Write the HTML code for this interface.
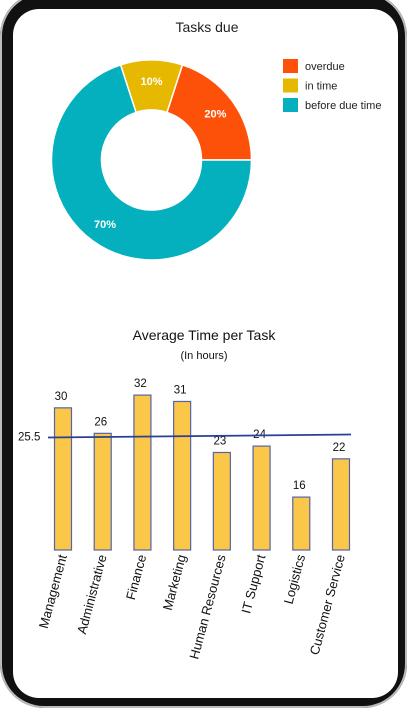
<!DOCTYPE html>
<html><head><meta charset="utf-8"><style>
html,body{margin:0;padding:0;background:#fff;}
body{width:409px;height:710px;overflow:hidden;position:relative;font-family:"Liberation Sans",sans-serif;}
#frame{position:absolute;left:0;top:-8px;width:407px;height:716px;border-radius:44px;background:#111;box-shadow:0 0 0 2px #bbb inset;}
#screen{position:absolute;left:13px;top:9px;width:385px;height:689px;border-radius:26px;background:#fff;overflow:hidden;}
svg{position:absolute;left:0;top:0;}
</style></head><body>
<div id="frame"></div>
<div id="screen"></div>
<svg id="chart" width="409" height="710">
<text x="207" y="32" text-anchor="middle" font-size="14" fill="#222">Tasks due</text>
<g id="donut"></g>
<g id="legend"></g>
<text x="204" y="340" text-anchor="middle" font-size="14" fill="#111">Average Time per Task</text>
<text x="204" y="359" text-anchor="middle" font-size="11" fill="#111">(In hours)</text>
<g id="bars"></g>
</svg>
<script>
const sliceLabels=["overdue","in time","before due time"];
const sliceValues=[20,10,70];
const sliceColors=["#fd5109","#e6b800","#04b0bd"];
const categories=["Management","Administrative","Finance","Marketing","Human Resources","IT Support","Logistics","Customer Service"];
const values=[30,26,32,31,23,24,16,22];
const averageValue=[25.5];
const NS="http://www.w3.org/2000/svg";
function mk(t,a,p){const e=document.createElementNS(NS,t);for(const k in a)e.setAttribute(k,a[k]);p.appendChild(e);return e;}
const cx=151.5,cy=160,R=100,r=50;
const dg=document.getElementById('donut');
const total=sliceValues.reduce((a,b)=>a+b,0);
let a0=0;
sliceValues.forEach((v,i)=>{
  const a1=a0+v/total*2*Math.PI;
  const pt=(rad,a)=>[cx+rad*Math.cos(a),cy-rad*Math.sin(a)];
  const [x0,y0]=pt(R,a0),[x1,y1]=pt(R,a1),[x2,y2]=pt(r,a1),[x3,y3]=pt(r,a0);
  const lg=(a1-a0)>Math.PI?1:0;
  const p=mk('path',{d:`M${x0},${y0}A${R},${R} 0 ${lg} 0 ${x1},${y1}L${x2},${y2}A${r},${r} 0 ${lg} 1 ${x3},${y3}Z`,fill:sliceColors[i],stroke:'#fff','stroke-width':1.5},dg);
  
  
  const am=(a0+a1)/2,[lx,ly]=pt(79,am);
  const t=mk('text',{x:lx,y:ly+4,'text-anchor':'middle','font-size':11,'font-weight':'bold',fill:'#fff'},dg);
  t.textContent=v+'%';
  
  
  a0=a1;
});
const lgd=document.getElementById('legend');
sliceLabels.forEach((l,i)=>{
  const y=59+i*19.5;
  const rct=mk('rect',{x:283,y:y,width:15,height:14,fill:sliceColors[i]},lgd);
  
  
  const t=mk('text',{x:305,y:y+11,'font-size':11,fill:'#222'},lgd);
  t.textContent=l;
  
  
});
const bg=document.getElementById('bars');
const base=550,vmin=7.7,k=6.375;
const yS=v=>base-(v-vmin)*k;
const xS=i=>63+i*(341-63)/(categories.length-1);
const bw=17;
values.forEach((v,i)=>{
  const x=xS(i),y=yS(v);
  const b=mk('rect',{x:x-bw/2,y:y,width:bw,height:base-y,fill:'#fac748',stroke:'#5563a8','stroke-width':1.2},bg);
  
  
  const t=mk('text',{x:x-2,y:y-8,'text-anchor':'middle','font-size':11.5,fill:'#111'},bg);
  t.textContent=v;
  
  
  const c=mk('text',{transform:`translate(${x+4},${base+6}) rotate(-75)`,'text-anchor':'end','font-size':13,fill:'#111'},bg);
  c.textContent=categories[i];
  
  
});
const ay=yS(averageValue[0]);
const ln=mk('line',{x1:48,y1:ay+1,x2:351,y2:ay-2,stroke:'#2b3f94','stroke-width':1.8},bg);


const at=mk('text',{x:18,y:ay+4,'font-size':11.5,fill:'#111'},bg);
at.textContent=averageValue[0];


</script>
</body></html>
